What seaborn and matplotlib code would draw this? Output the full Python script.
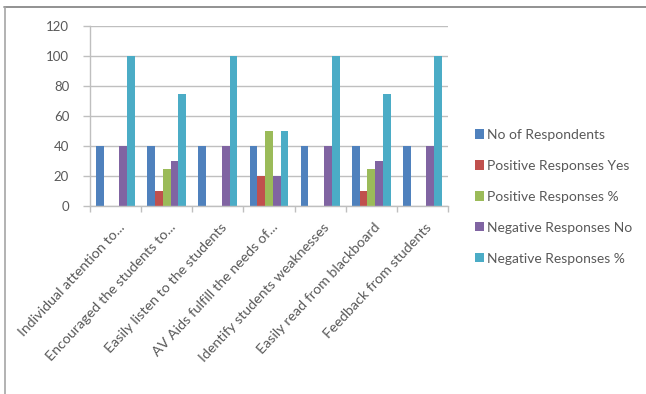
import matplotlib
matplotlib.use("Agg")
import matplotlib.pyplot as plt
from matplotlib.lines import Line2D
from matplotlib.transforms import ScaledTranslation
import seaborn as sns
import pandas as pd

categories = [
    "Individual attention to...",
    "Encouraged the students to...",
    "Easily listen to the students",
    "AV Aids fulfill the needs of...",
    "Identify students weaknesses",
    "Easily read from blackboard",
    "Feedback from students",
]
series = [
    "No of Respondents",
    "Positive Responses Yes",
    "Positive Responses %",
    "Negative Responses No",
    "Negative Responses %",
]
no_of_respondents = [40, 40, 40, 40, 40, 40, 40]
positive_yes = [0, 10, 0, 20, 0, 10, 0]
positive_pct = [0, 25, 0, 50, 0, 25, 0]
negative_no = [40, 30, 40, 20, 40, 30, 40]
negative_pct = [100, 75, 100, 50, 100, 75, 100]
y_ticks = [0, 20, 40, 60, 80, 100, 120]

colors = ["#4F81BD", "#C0504D", "#9BBB59", "#8064A2", "#4BACC6"]

rows = []
for name, vals in zip(series, [no_of_respondents, positive_yes, positive_pct,
                               negative_no, negative_pct]):
    for cat, v in zip(categories, vals):
        rows.append({"Item": cat, "Series": name, "Value": v})
df = pd.DataFrame(rows)

sns.set_theme(style="white")
plt.rcParams["font.family"] = ["Lato", "DejaVu Sans"]

fig = plt.figure(figsize=(6.46, 3.94), dpi=100)
W, H = 646, 394
ax = fig.add_axes([90 / W, 1 - 206 / H, (448 - 90) / W, (206 - 26) / H])

sns.barplot(data=df, x="Item", y="Value", hue="Series", order=categories,
            hue_order=series, palette=colors, width=0.76, saturation=1,
            linewidth=0, ax=ax, legend=True)

ax.set_ylim(0, 120)
ax.set_xlim(-0.5, len(categories) - 0.5)
ax.set_yticks(y_ticks)
ax.set_yticklabels([str(t) for t in y_ticks])
ax.set_xlabel("")
ax.set_ylabel("")
ax.set_axisbelow(True)
ax.yaxis.grid(True, color="#BFBFBF", linewidth=1.0)
ax.xaxis.grid(False)

for side in ["top", "right"]:
    ax.spines[side].set_visible(False)
for side in ["left", "bottom"]:
    ax.spines[side].set_color("#BFBFBF")
    ax.spines[side].set_linewidth(1.0)

ax.tick_params(axis="y", which="major", length=5, width=1, color="#BFBFBF",
               labelsize=9.5, labelcolor="#595959", pad=10, left=True)

# category labels, rotated, with their ends just under each group
ax.set_xticks(range(len(categories)))
ax.set_xticklabels(categories, rotation=47, ha="right", va="center",
                   rotation_mode="anchor", fontsize=10.3, color="#595959")
ax.tick_params(axis="x", which="major", length=0, pad=0)
shift = ScaledTranslation(7 / 100, -19 / 100, fig.dpi_scale_trans)
for lab in ax.get_xticklabels():
    lab.set_transform(lab.get_transform() + shift)

# category boundary ticks on the x axis
ax.set_xticks([i - 0.5 for i in range(len(categories) + 1)], minor=True)
ax.tick_params(axis="x", which="minor", length=4, width=1, color="#BFBFBF",
               bottom=True)

handles, labels = ax.get_legend_handles_labels()
ax.legend(handles, labels, loc="upper left",
          bbox_to_anchor=(475 / W, 1 - 129 / H), bbox_transform=fig.transFigure,
          frameon=False, fontsize=10, labelcolor="#595959",
          handlelength=0.65, handleheight=0.65, handletextpad=0.2,
          labelspacing=1.36, borderpad=0, borderaxespad=0)

# chart border
fig.add_artist(Line2D([4 / W, 1], [1 - 6.5 / H, 1 - 6.5 / H],
                      transform=fig.transFigure, color="#7F7F7F", linewidth=1.2))
fig.add_artist(Line2D([4.5 / W, 4.5 / W], [0, 1 - 6.5 / H],
                      transform=fig.transFigure, color="#A6A6A6", linewidth=1.2))

fig.savefig("out.png", dpi=100, facecolor="white")
